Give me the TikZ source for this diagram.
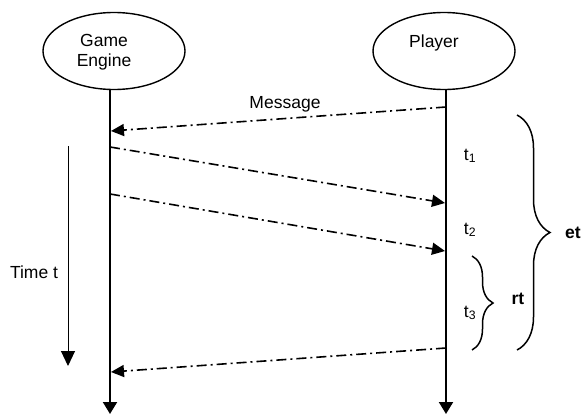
\documentclass[tikz,border=0pt]{standalone}
\usepackage{fontspec}
\setmainfont{Liberation Sans}
\usetikzlibrary{arrows.meta,decorations.pathreplacing,shapes.geometric}
\begin{document}
\begin{tikzpicture}[x=1pt,y=-1pt,
  every node/.style={font=\fontsize{17.5}{20}\selectfont},
  actor/.style={draw,ellipse,line width=1.4pt,minimum width=142pt,minimum height=77pt,inner sep=0pt},
  lifeline/.style={line width=2pt,-{Triangle[length=12pt,width=14pt]}},
  msg/.style={line width=1.6pt,dash pattern=on 10pt off 4pt on 2pt off 4pt,-{Triangle[length=13pt,width=12pt]}},
  timearrow/.style={line width=1pt,-{Triangle[length=15pt,width=14pt]}},
  bracestyle/.style={line width=1.5pt,decorate,decoration={brace,amplitude=#1}},
  lbl/.style={inner sep=1pt,align=center}]
\useasboundingbox (0,0) rectangle (587,415);
\node[actor] (ge) at (114,51) {};
\node[actor] (pl) at (444,51) {};
\node[lbl] (getext) at (104,52) {Game\\Engine};
\node[lbl] (pltext) at (434,43) {Player};
\coordinate (geend) at (110,414);
\coordinate (plend) at (446,414);
\draw[lifeline] (geend |- ge.south) -- (geend);
\draw[lifeline] (plend |- pl.south) -- (plend);
% messages
\coordinate (m1s) at (446,107);
\coordinate (m1e) at (111,131);
\coordinate (m2s) at (110,147);
\coordinate (m2e) at (445,203);
\coordinate (m3s) at (110,194);
\coordinate (m3e) at (445,251);
\coordinate (m4s) at (446,348);
\coordinate (m4e) at (111,372);
\draw[msg] (m1s) -- (m1e);
\draw[msg] (m2s) -- (m2e);
\draw[msg] (m3s) -- (m3e);
\draw[msg] (m4s) -- (m4e);
\node[lbl] (msglabel) at (285,104) {Message};
% time
\coordinate (ts) at (68,146);
\coordinate (te) at (68,366);
\draw[timearrow] (ts) -- (te);
\node[lbl] (timel) at (34,272) {Time t};
% t labels
\node[lbl] (t1) at (470,156) {t\textsubscript{1}};
\node[lbl] (t2) at (470,230) {t\textsubscript{2}};
\node[lbl] (t3) at (470,313) {t\textsubscript{3}};
% braces
\coordinate (b1t) at (517,115);
\coordinate (b1b) at (517,350);
\draw[bracestyle=33pt] (b1t) -- (b1b);
\node[lbl,font=\fontsize{17.5}{20}\selectfont\bfseries] (et) at (573,233) {et};
\coordinate (b2t) at (472,256);
\coordinate (b2b) at (472,350);
\draw[bracestyle=21pt] (b2t) -- (b2b);
\node[lbl,font=\fontsize{17.5}{20}\selectfont\bfseries] (rt) at (518,299) {rt};
\end{tikzpicture}
\end{document}
